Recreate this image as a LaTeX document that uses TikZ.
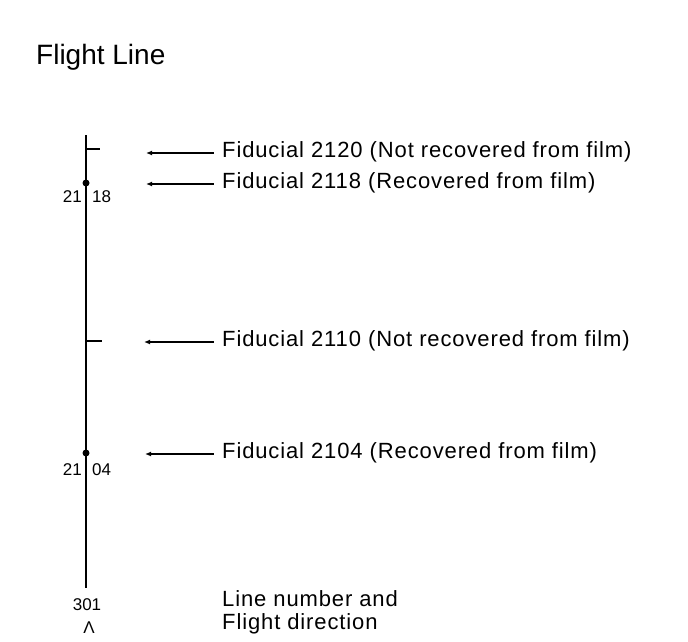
\documentclass[tikz,border=0pt]{standalone}
\usepackage{fontspec}
\setmainfont{Liberation Sans}
\newfontfamily\fidfont[LetterSpace=4]{Liberation Sans}
\usepackage{tikz}
\usetikzlibrary{shapes,arrows,arrows.meta,positioning,calc}

\begin{document}
\begin{tikzpicture}[x=1pt, y=-1pt, >={Latex[length=6pt,width=5pt]},
    fid/.style={anchor=base west, inner xsep=8pt, inner ysep=0pt, font=\fontsize{22}{23}\fidfont},
    num/.style={inner sep=0pt, font=\fontsize{17}{19}\selectfont},
    pt/.style={circle, fill=black, inner sep=0pt, minimum size=7pt},
    pointer/.style={<-, line width=1.6pt}]
            \useasboundingbox[fill=white] (0,0) rectangle (688,642);
            % Title
            \node[anchor=base west, inner sep=0pt, font=\fontsize{28}{32}\selectfont] (title) at (36,65) {Flight Line};
            
            % Flight line with ticks and fiducial points
            \coordinate (top) at (86,135);
            \coordinate (bot) at (86,588);
            \draw[line width=2.4pt] (top) -- (bot);
            
            \coordinate (t1) at (86,149);
            \coordinate (t2) at (86,341);
            \draw[line width=1.8pt] (t1) -- ++(14,0);
            \draw[line width=1.8pt] (t2) -- ++(16,0);
            
            \node[pt] (p18) at (86,183) {};
            \node[pt] (p04) at (86,453) {};
            
            \node[num, anchor=east] (n21a) at (82,197) {21};
            \node[num, anchor=west] (n18) at (92,197) {18};
            \node[num, anchor=east] (n21b) at (82,470) {21};
            \node[num, anchor=west] (n04) at (92,470) {04};
            
            % Fiducial labels
            \node[fid] (f20) at (214,157) {Fiducial 2120 (Not recovered from film)};
            \node[fid] (f18) at (214,188) {Fiducial 2118 (Recovered from film)};
            \node[fid] (f10) at (214,346) {Fiducial 2110 (Not recovered from film)};
            \node[fid] (f04) at (214,458) {Fiducial 2104 (Recovered from film)};
            
            \coordinate (a20) at (146,153);
            \coordinate (a18) at (146,184);
            \coordinate (a10) at (144,342);
            \coordinate (a04) at (145,454);
            
            \draw[pointer] (a20) -- (a20 -| f20.west);
            \draw[pointer] (a18) -- (a18 -| f18.west);
            \draw[pointer] (a10) -- (a10 -| f10.west);
            \draw[pointer] (a04) -- (a04 -| f04.west);
            
            % Line number and direction
            \node[num] (lnum) at (87,605) {301};
            \node[num] (ldir) at (89,628) {Λ};
            \node[fid, align=left, anchor=north west, inner xsep=0pt] (legend) at (222,590) {Line number and\\Flight direction};
        \end{tikzpicture}
\end{document}
